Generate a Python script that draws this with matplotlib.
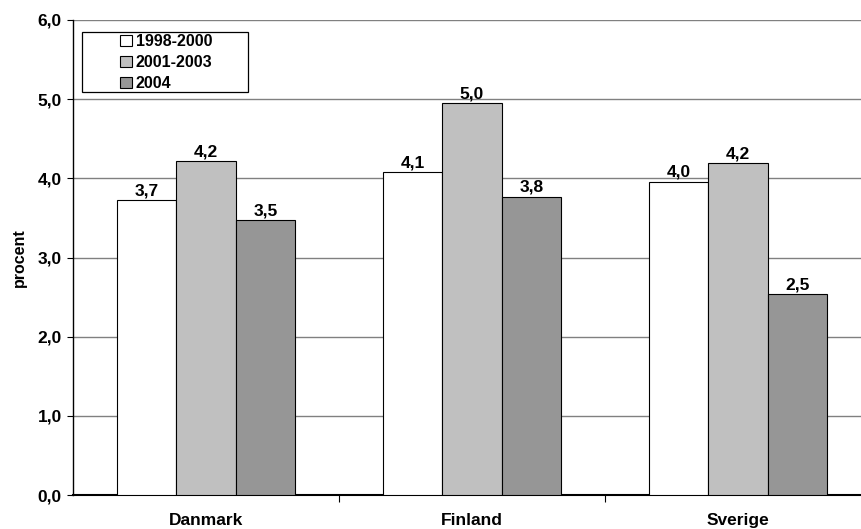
import numpy as np
import matplotlib
matplotlib.use('Agg')
from matplotlib import pyplot as plt
from matplotlib.patches import Rectangle
from matplotlib.ticker import FuncFormatter, FixedLocator

plt.rcParams['font.family'] = ['Liberation Sans', 'DejaVu Sans']
plt.rcParams['font.weight'] = 'bold'

countries = ['Danmark', 'Finland', 'Sverige']
periods = ['1998-2000', '2001-2003', '2004']
vals_9800 = [3.73, 4.08, 3.96]
vals_0103 = [4.22, 4.95, 4.19]
vals_2004 = [3.47, 3.77, 2.54]
labels_9800 = ['3,7', '4,1', '4,0']
labels_0103 = ['4,2', '5,0', '4,2']
labels_2004 = ['3,5', '3,8', '2,5']
colors = ['#FFFFFF', '#C0C0C0', '#969696']

fig = plt.figure(figsize=(8.61, 5.29), dpi=100)
ax = fig.add_axes([73/861, 34/529, 798/861, 475/529])

x = np.arange(len(countries))
w = 0.223
series = [vals_9800, vals_0103, vals_2004]
texts = [labels_9800, labels_0103, labels_2004]
for i, (vals, lab) in enumerate(zip(series, texts)):
    bars = ax.bar(x + (i - 1) * w, vals, w, color=colors[i], edgecolor='black',
                  linewidth=0.8, label=periods[i], zorder=3)
    for b, t in zip(bars, lab):
        ax.text(b.get_x() + b.get_width() / 2, b.get_height() + 0.02, t,
                ha='center', va='bottom', fontsize=12.5, fontweight='bold')

ax.set_xlim(-0.5, 2.5)
ax.set_ylim(0, 6)
ax.set_yticks(np.arange(0, 6.1, 1.0))
ax.yaxis.set_major_formatter(FuncFormatter(lambda v, p: ('%.1f' % v).replace('.', ',')))
ax.grid(axis='y', color='#808080', linewidth=1.0, zorder=0)
ax.xaxis.set_major_locator(FixedLocator([0.5, 1.5]))
ax.xaxis.set_minor_locator(FixedLocator(x))
ax.set_xticklabels([])
ax.set_xticklabels(countries, minor=True)
ax.tick_params(axis='x', which='minor', length=0, pad=13, labelsize=12.5)
ax.tick_params(axis='x', which='major', length=5, direction='out')
ax.tick_params(axis='y', length=4, direction='out', labelsize=12.5, pad=4)
for lbl in ax.get_yticklabels() + ax.get_xticklabels(minor=True):
    lbl.set_fontweight('bold')
ax.spines['top'].set_visible(False)
ax.spines['right'].set_visible(False)
ax.spines['left'].set_linewidth(1.0)
ax.spines['bottom'].set_linewidth(1.5)
ax.set_ylabel('procent', fontsize=11.5, fontweight='bold', labelpad=8)

# legend box drawn separately, entries sit inset from its left edge
ax.add_patch(Rectangle((9/798, 403/475), 166/798, 60/475, transform=ax.transAxes,
                       facecolor='white', edgecolor='black', linewidth=0.9, zorder=5))
leg = ax.legend(loc='upper left', bbox_to_anchor=(47/798, 1 - 14/475), fontsize=11.5,
                frameon=False, handlelength=0.75, handleheight=0.75,
                handletextpad=0.25, borderpad=0, labelspacing=0.38, borderaxespad=0)
leg.set_zorder(6)
for t in leg.get_texts():
    t.set_fontweight('bold')

fig.savefig('out.png', dpi=100)
